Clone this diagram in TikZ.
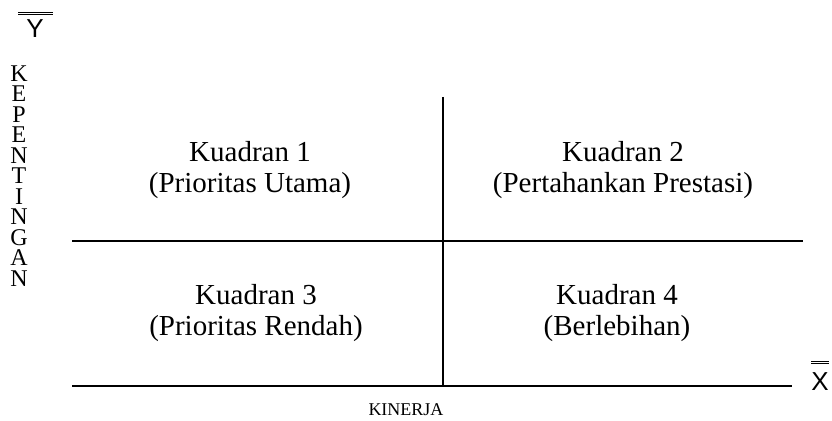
\documentclass[tikz,border=0pt]{standalone}
\usepackage{fontspec}
\setmainfont{Liberation Serif}
\newfontfamily\axisfont{Liberation Sans}
\usepackage{tikz}
\usetikzlibrary{positioning}

\tikzset{
  quad/.style={align=center,font=\fontsize{14.5}{15.5}\selectfont},
  axisline/.style={line width=0.6pt},
  barsym/.style={font=\axisfont\fontsize{13}{13}\selectfont,inner sep=0pt},
  letters/.style={align=center,font=\fontsize{12}{10.25}\selectfont,inner sep=0pt}
}

\begin{document}
\begin{tikzpicture}[x=0.5pt,y=-0.5pt]
		\useasboundingbox (0,0) rectangle (832,421);
		% axis symbols
		\node[barsym] (ysym) at (35,29) {Y};
		\draw [line width=0.5pt] (18,12.5)--(53,12.5);
		\draw [line width=0.5pt] (18,15)--(53,15);
		\node[barsym] (xsym) at (820,382) {X};
		\draw [line width=0.5pt] (811,361.5)--(829,361.5);
		\draw [line width=0.5pt] (811,364)--(829,364);
		% vertical label
		\node[letters] (kep) at (19,176) {K\\E\\P\\E\\N\\T\\I\\N\\G\\A\\N};
		% quadrant lines
		\coordinate (top) at (443,97);
		\coordinate (bot) at (443,386);
		\coordinate (midl) at (72,241);
		\coordinate (midr) at (803,241);
		\coordinate (botl) at (72,386);
		\coordinate (botr) at (792,386);
		\draw [axisline] (top)--(bot);
		\draw [axisline] (midl)--(midr);
		\draw [axisline] (botl)--(botr);
		% quadrant texts
		\node[quad] (q1) at (250,170) {Kuadran 1\\(Prioritas Utama)};
		\node[quad] (q2) at (623,170) {Kuadran 2\\(Pertahankan Prestasi)};
		\node[quad] (q3) at (256,313) {Kuadran 3\\(Prioritas Rendah)};
		\node[quad] (q4) at (617,313) {Kuadran 4\\(Berlebihan)};
		\node[font=\fontsize{9}{9}\selectfont] (kinerja) at (406,410) {KINERJA};
\end{tikzpicture}
\end{document}
